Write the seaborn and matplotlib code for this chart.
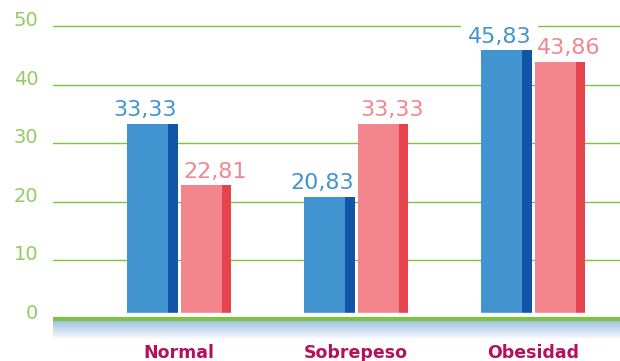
import numpy as np
import pandas as pd
import seaborn as sns
import matplotlib

matplotlib.use("Agg")
import matplotlib.pyplot as plt
from matplotlib.patches import Rectangle
from matplotlib.colors import LinearSegmentedColormap

# data
categorias = ["Normal", "Sobrepeso", "Obesidad"]
serie_azul = [33.33, 20.83, 45.83]
serie_rosa = [22.81, 33.33, 43.86]
y_ticks = [0, 10, 20, 30, 40, 50]

azul, azul_osc = "#4194cf", "#1254a8"
rosa, rosa_osc = "#f2868c", "#e5444e"
verde_grid, verde_txt = "#7dc242", "#93cc62"
magenta = "#b5105c"

df = pd.DataFrame({
    "categoria": categorias * 2,
    "serie": ["azul"] * 3 + ["rosa"] * 3,
    "valor": serie_azul + serie_rosa,
})

sns.set_theme(style="white")
plt.rcParams["font.family"] = ["DejaVu Sans"]

fig = plt.figure(figsize=(6.2, 3.61), dpi=100)
ax = fig.add_axes([53 / 620, 21 / 361, 567 / 620, 340 / 361])

sns.barplot(data=df, x="categoria", y="valor", hue="serie",
            palette={"azul": azul, "rosa": rosa}, width=0.605, gap=0.056,
            saturation=1, legend=False, linewidth=0, ax=ax, zorder=2)

# darker strip on the right side of each bar + value labels
for cont, osc, txtcol, dx in zip(ax.containers, [azul_osc, rosa_osc],
                                 [azul, rosa], [-0.04, 0.05]):
    for p, v in zip(cont.patches, cont.datavalues):
        p.set_linewidth(0)
        w = p.get_width() * 0.19
        ax.add_patch(Rectangle((p.get_x() + p.get_width() - w, 0), w,
                               p.get_height(), color=osc, lw=0, zorder=2.5))
        # white box hides the gridline behind the label, bars stay on top
        ax.text(p.get_x() + p.get_width() / 2 + dx, v + 0.6,
                f"{v:.2f}".replace(".", ","), ha="center", va="bottom",
                fontsize=16, color=txtcol, zorder=1.5,
                bbox=dict(boxstyle="square,pad=0.3", fc="white", ec="none"))

ax.set_xlim(-0.712, 2.49)
ax.set_ylim(-3.65, 54.44)

# baseline: white gap, green line, blue fade
ax.axhspan(0, 0.95, color="white", zorder=3)
ax.axhline(-0.09, color=verde_grid, lw=3, zorder=3.5)
cmap = LinearSegmentedColormap.from_list("fade", ["#9fc3e4", "#ffffff"])
ax.imshow(np.linspace(0, 1, 50).reshape(-1, 1), cmap=cmap, aspect="auto",
          extent=(-0.712, 2.49, -3.65, -0.55), zorder=1)

# y labels sit slightly above their gridlines
ax.set_yticks(y_ticks)
ax.set_yticklabels([])
for t in y_ticks:
    ax.text(-0.026, t, str(t), transform=ax.get_yaxis_transform(),
            ha="right", va="baseline", fontsize=14, color=verde_txt)
ax.yaxis.grid(True, color=verde_grid, lw=1)
ax.set_axisbelow(True)
ax.tick_params(axis="y", length=0)
ax.tick_params(axis="x", length=0, pad=3)
ax.set_xticks(range(len(categorias)))
ax.set_xticklabels(categorias, fontsize=12.5, color=magenta, fontweight="bold")
ax.set_xlabel("")
ax.set_ylabel("")
sns.despine(ax=ax, left=True, bottom=True)

plt.savefig("out.png", dpi=100)
